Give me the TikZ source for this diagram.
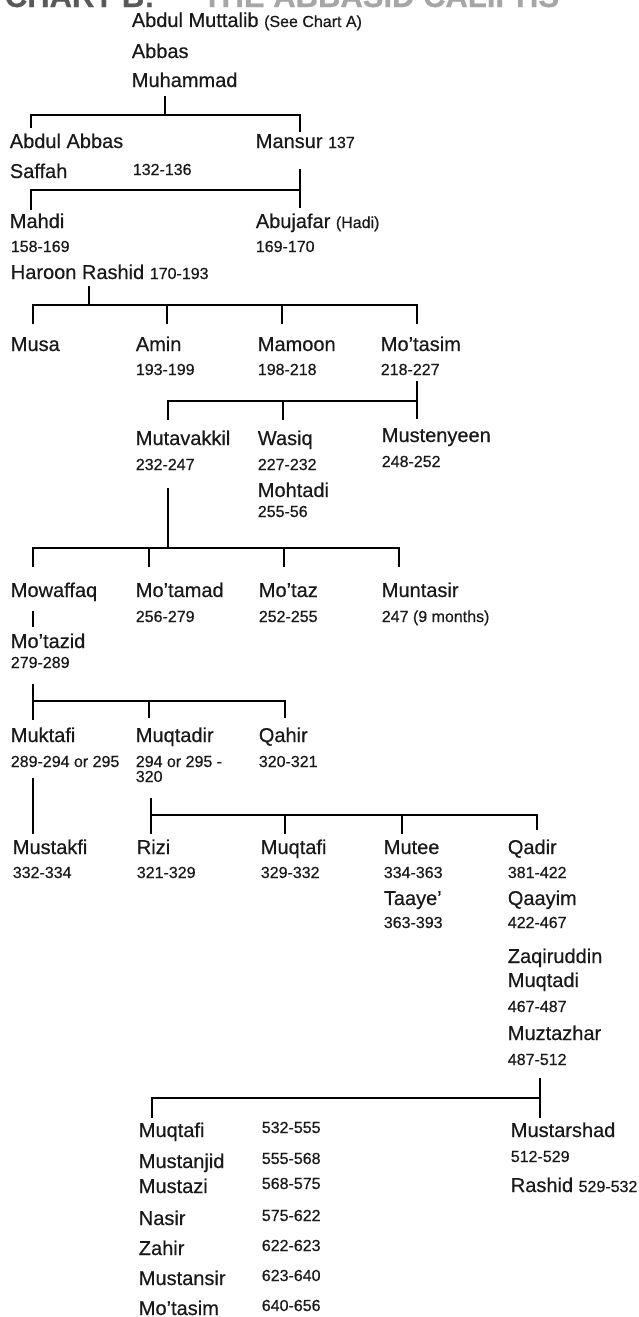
\documentclass[tikz,border=0pt]{standalone}
\usepackage{fontspec}
\setmainfont[FakeBold=0.5]{Liberation Sans}
\newcommand\namesize{\fontsize{20}{20}\selectfont}
\newcommand\datesize{\fontsize{16}{16}\selectfont}
\begin{document}
\begin{tikzpicture}[x=1pt,y=-1pt,line width=1.7pt,
            name node/.style={anchor=base west,inner sep=0pt,font=\namesize,text=black!90},
            date node/.style={anchor=base west,inner sep=0pt,font=\datesize,text=black!90},
            gap/.style args={#1 and #2}{shorten <=#1,shorten >=#2}]
        \useasboundingbox (0,0) rectangle (639,1317);
        \clip (0,0) rectangle (639,1317);

        % Title, cut at the top edge
        \node[anchor=base west,inner sep=0pt,text=black!65,
              font=\bfseries\fontsize{31}{31}\selectfont] (title) at (4,7)
              {CHART B:\hspace{48pt}\textcolor{black!35}{THE ABBASID CALIPHS}};

        % Define vertices
        \node[name node] (muttalib) at (131,27) {Abdul Muttalib {\datesize (See Chart A)}};
        \node[name node] (abbas) at (131,58) {Abbas};
        \node[name node] (muhammad) at (131,87) {Muhammad};

        \node[name node] (abdulabbas) at (9,148) {Abdul Abbas};
        \node[name node] (saffah) at (9,178) {Saffah};
        \node[date node] (saffahd) at (132,175) {132-136};
        \node[name node] (mansur) at (255,148) {Mansur {\datesize 137}};

        \node[name node] (mahdi) at (9,228) {Mahdi};
        \node[date node] (mahdid) at (10,252) {158-169};
        \node[name node] (abujafar) at (255,228) {Abujafar {\datesize (Hadi)}};
        \node[date node] (abujafard) at (255,252) {169-170};
        \node[name node] (haroon) at (10,279) {Haroon Rashid {\datesize 170-193}};

        \node[name node] (musa) at (10,351) {Musa};
        \node[name node] (amin) at (135,351) {Amin};
        \node[date node] (amind) at (135,375) {193-199};
        \node[name node] (mamoon) at (257,351) {Mamoon};
        \node[date node] (mamoond) at (257,375) {198-218};
        \node[name node] (motasim) at (380,351) {Mo'tasim};
        \node[date node] (motasimd) at (380,375) {218-227};

        \node[name node] (mutavakkil) at (135,445) {Mutavakkil};
        \node[date node] (mutavakkild) at (135,470) {232-247};
        \node[name node] (wasiq) at (257,445) {Wasiq};
        \node[date node] (wasiqd) at (257,470) {227-232};
        \node[name node] (mohtadi) at (257,497) {Mohtadi};
        \node[date node] (mohtadid) at (257,517) {255-56};
        \node[name node] (mustenyeen) at (381,442) {Mustenyeen};
        \node[date node] (mustenyeend) at (381,467) {248-252};

        \node[name node] (mowaffaq) at (10,597) {Mowaffaq};
        \node[name node] (motamad) at (135,597) {Mo'tamad};
        \node[date node] (motamadd) at (135,622) {256-279};
        \node[name node] (motaz) at (258,597) {Mo'taz};
        \node[date node] (motazd) at (258,622) {252-255};
        \node[name node] (muntasir) at (381,597) {Muntasir};
        \node[date node] (muntasird) at (381,622) {247 (9 months)};
        \node[name node] (motazid) at (10,648) {Mo'tazid};
        \node[date node] (motazidd) at (10,668) {279-289};

        \node[name node] (muktafi) at (10,742) {Muktafi};
        \node[date node] (muktafid) at (10,767) {289-294 or 295};
        \node[name node] (muqtadir) at (135,742) {Muqtadir};
        \node[date node] (muqtadird) at (135,767) {294 or 295 -};
        \node[date node] (muqtadire) at (135,782) {320};
        \node[name node] (qahir) at (258,742) {Qahir};
        \node[date node] (qahird) at (258,767) {320-321};

        \node[name node] (mustakfi) at (12,854) {Mustakfi};
        \node[date node] (mustakfid) at (12,878) {332-334};
        \node[name node] (rizi) at (136,854) {Rizi};
        \node[date node] (rizid) at (136,878) {321-329};
        \node[name node] (muqtafi) at (260,854) {Muqtafi};
        \node[date node] (muqtafid) at (260,878) {329-332};
        \node[name node] (mutee) at (383,854) {Mutee};
        \node[date node] (muteed) at (383,878) {334-363};
        \node[name node] (taaye) at (383,905) {Taaye'};
        \node[date node] (taayed) at (383,928) {363-393};
        \node[name node] (qadir) at (507,854) {Qadir};
        \node[date node] (qadird) at (507,878) {381-422};
        \node[name node] (qaayim) at (507,905) {Qaayim};
        \node[date node] (qaayimd) at (507,928) {422-467};
        \node[name node] (zaqiruddin) at (507,963) {Zaqiruddin};
        \node[name node] (muqtadi) at (507,987) {Muqtadi};
        \node[date node] (muqtadid) at (507,1012) {467-487};
        \node[name node] (muztazhar) at (507,1040) {Muztazhar};
        \node[date node] (muztazhard) at (507,1065) {487-512};

        \foreach \nm/\dt/\yy [count=\i] in {Muqtafi/532-555/1137,Mustanjid/555-568/1168,
              Mustazi/568-575/1193,Nasir/575-622/1225,Zahir/622-623/1255,
              Mustansir/623-640/1285,Mo'tasim/640-656/1315}{
            \node[name node] (list\i) at (138,\yy) {\nm};
            \node[date node] (listd\i) at (261,\yy-4) {\dt};
        }
        \node[name node] (mustarshad) at (510,1137) {Mustarshad};
        \node[date node] (mustarshadd) at (510,1162) {512-529};
        \node[name node] (rashid) at (510,1192) {Rashid {\datesize 529-532}};

        % Draw edges
        \coordinate (b1l) at (31,115);
        \coordinate (b1m) at (165,115);
        \coordinate (b1r) at (300,115);
        \draw[gap=8pt and 0pt] (b1m |- muhammad.south) -- (b1m);
        \draw[gap=5pt and 1pt] (b1l |- abdulabbas.north) -- (b1l) -- (b1r) -- (b1r |- mansur.north);

        \coordinate (b2l) at (31,190);
        \coordinate (b2r) at (300,190);
        \draw[gap=20pt and 5pt] (b2r |- mansur.south) -- (b2r |- abujafar.north);
        \draw[gap=3pt and 0pt] (b2l |- mahdi.north) -- (b2l) -- (b2r);

        \coordinate (b3l) at (33,305);
        \coordinate (b3m) at (89,305);
        \coordinate (b3a) at (167,305);
        \coordinate (b3b) at (282,305);
        \coordinate (b3r) at (417,305);
        \draw[gap=6pt and 0pt] (b3m |- haroon.south) -- (b3m);
        \draw[gap=12pt and 12pt] (b3l |- musa.north) -- (b3l) -- (b3r) -- (b3r |- motasim.north);
        \draw[gap=0pt and 12pt] (b3a) -- (b3a |- amin.north);
        \draw[gap=0pt and 12pt] (b3b) -- (b3b |- mamoon.north);

        \coordinate (b4l) at (168,401);
        \coordinate (b4m) at (283,401);
        \coordinate (b4r) at (417,401);
        \draw[gap=5pt and 8pt] (b4r |- motasimd.south) -- (b4r |- mustenyeen.north);
        \draw[gap=10pt and 0pt] (b4l |- mutavakkil.north) -- (b4l) -- (b4r);
        \draw[gap=0pt and 10pt] (b4m) -- (b4m |- wasiq.north);

        \coordinate (b5l) at (33,548);
        \coordinate (b5a) at (149,548);
        \coordinate (b5m) at (168,548);
        \coordinate (b5b) at (284,548);
        \coordinate (b5r) at (399,548);
        \draw[gap=17pt and 0pt] (b5m |- mutavakkild.south) -- (b5m);
        \draw[gap=15pt and 15pt] (b5l |- mowaffaq.north) -- (b5l) -- (b5r) -- (b5r |- muntasir.north);
        \draw[gap=0pt and 15pt] (b5a) -- (b5a |- motamad.north);
        \draw[gap=0pt and 15pt] (b5b) -- (b5b |- motaz.north);
        \draw[gap=9pt and 6pt] (b5l |- mowaffaq.south) -- (b5l |- motazid.north);

        \coordinate (b6l) at (33,701);
        \coordinate (b6m) at (149,701);
        \coordinate (b6r) at (285,701);
        \draw[gap=15pt and 7pt] (b6l |- motazidd.south) -- (b6l |- muktafi.north);
        \draw[gap=0pt and 9pt] (b6l) -- (b6r) -- (b6r |- qahir.north);
        \draw[gap=0pt and 9pt] (b6m) -- (b6m |- muqtadir.north);
        \draw[gap=10pt and 5pt] (b6l |- muktafid.south) -- (b6l |- mustakfi.north);

        \coordinate (b7l) at (151,815);
        \coordinate (b7a) at (285,815);
        \coordinate (b7b) at (402,815);
        \coordinate (b7r) at (537,815);
        \draw[gap=15pt and 5pt] (b7l |- muqtadire.south) -- (b7l |- rizi.north);
        \draw[gap=0pt and 9pt] (b7l) -- (b7r) -- (b7r |- qadir.north);
        \draw[gap=0pt and 5pt] (b7a) -- (b7a |- muqtafi.north);
        \draw[gap=0pt and 5pt] (b7b) -- (b7b |- mutee.north);

        \coordinate (b8l) at (152,1098);
        \coordinate (b8r) at (540,1098);
        \draw[gap=12pt and 4pt] (b8r |- muztazhard.south) -- (b8r |- mustarshad.north);
        \draw[gap=4pt and 0pt] (b8l |- list1.north) -- (b8l) -- (b8r);

\end{tikzpicture}
\end{document}
